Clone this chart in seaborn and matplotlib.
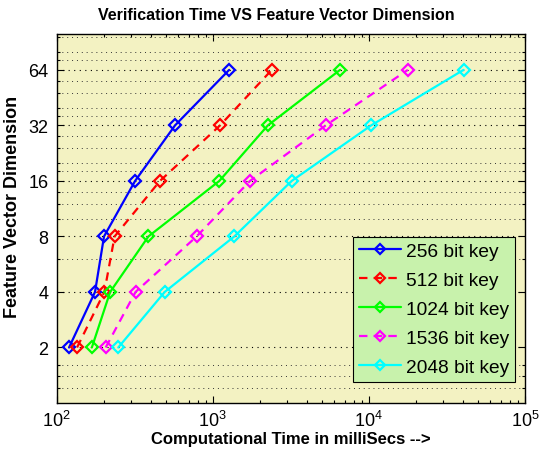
import numpy as np
import pandas as pd
import matplotlib
matplotlib.use("Agg")
import matplotlib.pyplot as plt
from matplotlib.ticker import FixedLocator, NullFormatter, LogLocator
import seaborn as sns

# feature vector dimensions (y) and timing per key size (x, ms)
dims = [2, 4, 8, 16, 32, 64]
keys = ["256 bit key", "512 bit key", "1024 bit key", "1536 bit key", "2048 bit key"]
t_256 = [120, 176, 201, 318, 573, 1274]
t_512 = [135, 202, 235, 459, 1114, 2389]
t_1024 = [168, 220, 387, 1102, 2254, 6546]
t_1536 = [206, 320, 788, 1733, 5297, 17783]
t_2048 = [248, 492, 1374, 3206, 10350, 40460]
times = [t_256, t_512, t_1024, t_1536, t_2048]

colors = ["#0000ff", "#ff0000", "#00ff00", "#ff00ff", "#00ffff"]
styles = ["-", (0, (3.8, 2.8)), "-", (0, (3.8, 2.8)), "-"]

y_minor = [1.2, 1.4, 1.6, 6, 10, 12, 14, 18, 20, 24, 28, 36, 40, 48, 56, 72, 80, 96]

sns.set_style("ticks")
plt.rcParams["font.family"] = ["Liberation Sans", "DejaVu Sans"]
plt.rcParams["mathtext.fontset"] = "custom"
plt.rcParams["mathtext.rm"] = "Liberation Sans"
for k in ["text.color", "axes.labelcolor", "xtick.color", "ytick.color"]:
    plt.rcParams[k] = "black"

fig = plt.figure(figsize=(5.4, 4.56), dpi=100)
ax = fig.add_axes([0.105, 0.114, 0.867, 0.809])
ax.set_facecolor("#f3f2c2")

for key, t, c, ls in zip(keys, times, colors, styles):
    df = pd.DataFrame({"time": t, "dim": dims})
    sns.lineplot(data=df, x="time", y="dim", ax=ax, sort=False, color=c,
                 linestyle=ls, linewidth=1.6, marker="D", markersize=6,
                 markerfacecolor="none", markeredgecolor=c, markeredgewidth=1.6,
                 label=key)

ax.set_xscale("log")
ax.set_yscale("log")
ax.set_xlim(100, 1e5)
ax.set_ylim(1, 100)

ax.set_yticks(dims)
ax.set_yticklabels([str(d) for d in dims])
ax.yaxis.set_minor_locator(FixedLocator(y_minor))
ax.yaxis.set_minor_formatter(NullFormatter())
ax.set_xticks([1e2, 1e3, 1e4, 1e5])
ax.set_xticklabels([r"$\mathregular{10^{2}}$", r"$\mathregular{10^{3}}$",
                    r"$\mathregular{10^{4}}$", r"$\mathregular{10^{5}}$"])
ax.xaxis.set_minor_locator(LogLocator(base=10, subs=np.arange(2, 10)))
ax.xaxis.set_minor_formatter(NullFormatter())

ax.tick_params(which="both", direction="in", top=True, right=True, labelsize=13,
               width=0.8, color="black")
ax.tick_params(which="major", length=5)
ax.tick_params(which="minor", length=2.5)
ax.tick_params(axis="y", which="minor", length=2)
ax.tick_params(axis="x", pad=5)
ax.tick_params(axis="y", pad=6)

ax.grid(False, axis="x", which="both")
ax.grid(True, axis="y", which="major", linestyle=(0, (1, 4)), color="black", linewidth=0.8)
ax.grid(True, axis="y", which="minor", linestyle=(0, (1, 4)), color="#333333", linewidth=0.7)

for sp in ax.spines.values():
    sp.set_visible(True)
    sp.set_color("black")
    sp.set_linewidth(1.0)

ax.set_title("Verification Time VS Feature Vector Dimension", fontsize=11.5,
             fontweight="bold", pad=11, x=0.47)
ax.set_xlabel("Computational Time in milliSecs -->", fontsize=12, fontweight="bold",
              labelpad=1)
ax.set_ylabel("Feature Vector Dimension", fontsize=13, fontweight="bold", labelpad=5,
              y=0.533)

leg = ax.legend(loc="lower right", bbox_to_anchor=(0.979, 0.057), fontsize=13.8,
                frameon=True, fancybox=False, handlelength=2.2, handletextpad=0.25,
                borderpad=0.32, labelspacing=0.6, borderaxespad=0.0, markerscale=0.85)
leg.get_frame().set_facecolor("#c8f2ac")
leg.get_frame().set_edgecolor("black")
leg.get_frame().set_alpha(1)
leg.get_frame().set_linewidth(0.8)

fig.savefig("out.png", dpi=100, facecolor="white")
